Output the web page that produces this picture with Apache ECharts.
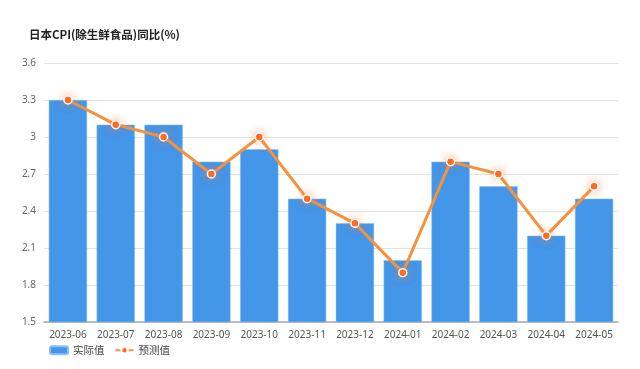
<!DOCTYPE html>
<html><head><meta charset="utf-8">
<script src="https://cdn.jsdelivr.net/npm/echarts@6/dist/echarts.min.js"></script>
<style>html,body{margin:0;padding:0;background:#fff}#c{width:640px;height:369px}</style>
</head><body><div id="c"></div>
<script>
const categories = ['2023-06','2023-07','2023-08','2023-09','2023-10','2023-11','2023-12','2024-01','2024-02','2024-03','2024-04','2024-05'];
const actual = [3.3, 3.1, 3.1, 2.8, 2.9, 2.5, 2.3, 2.0, 2.8, 2.6, 2.2, 2.5];
const forecast = [3.3, 3.1, 3.0, 2.7, 3.0, 2.5, 2.3, 1.9, 2.8, 2.7, 2.2, 2.6];
const chart = echarts.init(document.getElementById('c'));
chart.setOption({
  animation: false,
  title: { text: '日本CPI(除生鲜食品)同比(%)', left: 24, top: 24,
    textStyle: { fontSize: 11.5, fontWeight: 'bold', color: '#222', fontFamily: 'Noto Sans CJK SC' } },
  legend: { left: 44, top: 340, itemGap: 10, itemWidth: 18, itemHeight: 8,
    textStyle: { fontSize: 10.5, color: '#444', fontFamily: 'Noto Sans CJK SC' },
    data: [{name:'实际值', icon:'roundRect'}, {name:'预测值'}] },
  grid: { left: 44, right: 22, top: 63, bottom: 47 },
  xAxis: { type: 'category', data: categories,
    axisLine: { lineStyle: { color: '#aaa', width: 1.5 } }, axisTick: { show: false },
    axisLabel: { interval: 0, color: '#555', fontSize: 10, margin: 8, fontFamily: 'Noto Sans' } },
  yAxis: { type: 'value', min: 1.5, max: 3.6, interval: 0.3,
    axisLine: { show: false }, axisTick: { show: false },
    splitLine: { lineStyle: { color: '#e3e3e3' } },
    axisLabel: { color: '#666', fontSize: 10, margin: 8, fontFamily: 'Noto Sans',
      formatter: v => String(Math.round(v*10)/10) } },
  series: [
    { name: '实际值', type: 'bar', data: actual, barCategoryGap: '20%',
      itemStyle: { color: '#4496e8', borderColor: '#8fc0f2', borderWidth: 0.5 } },
    { name: '预测值', type: 'line', data: forecast, symbol: 'circle', symbolSize: 8,
      lineStyle: { color: '#f7923c', width: 3 },
      itemStyle: { color: '#ff6a1f', borderColor: '#fff', borderWidth: 1.5,
        shadowColor: 'rgba(255,120,60,0.6)', shadowBlur: 8 } }
  ]
});
</script></body></html>
